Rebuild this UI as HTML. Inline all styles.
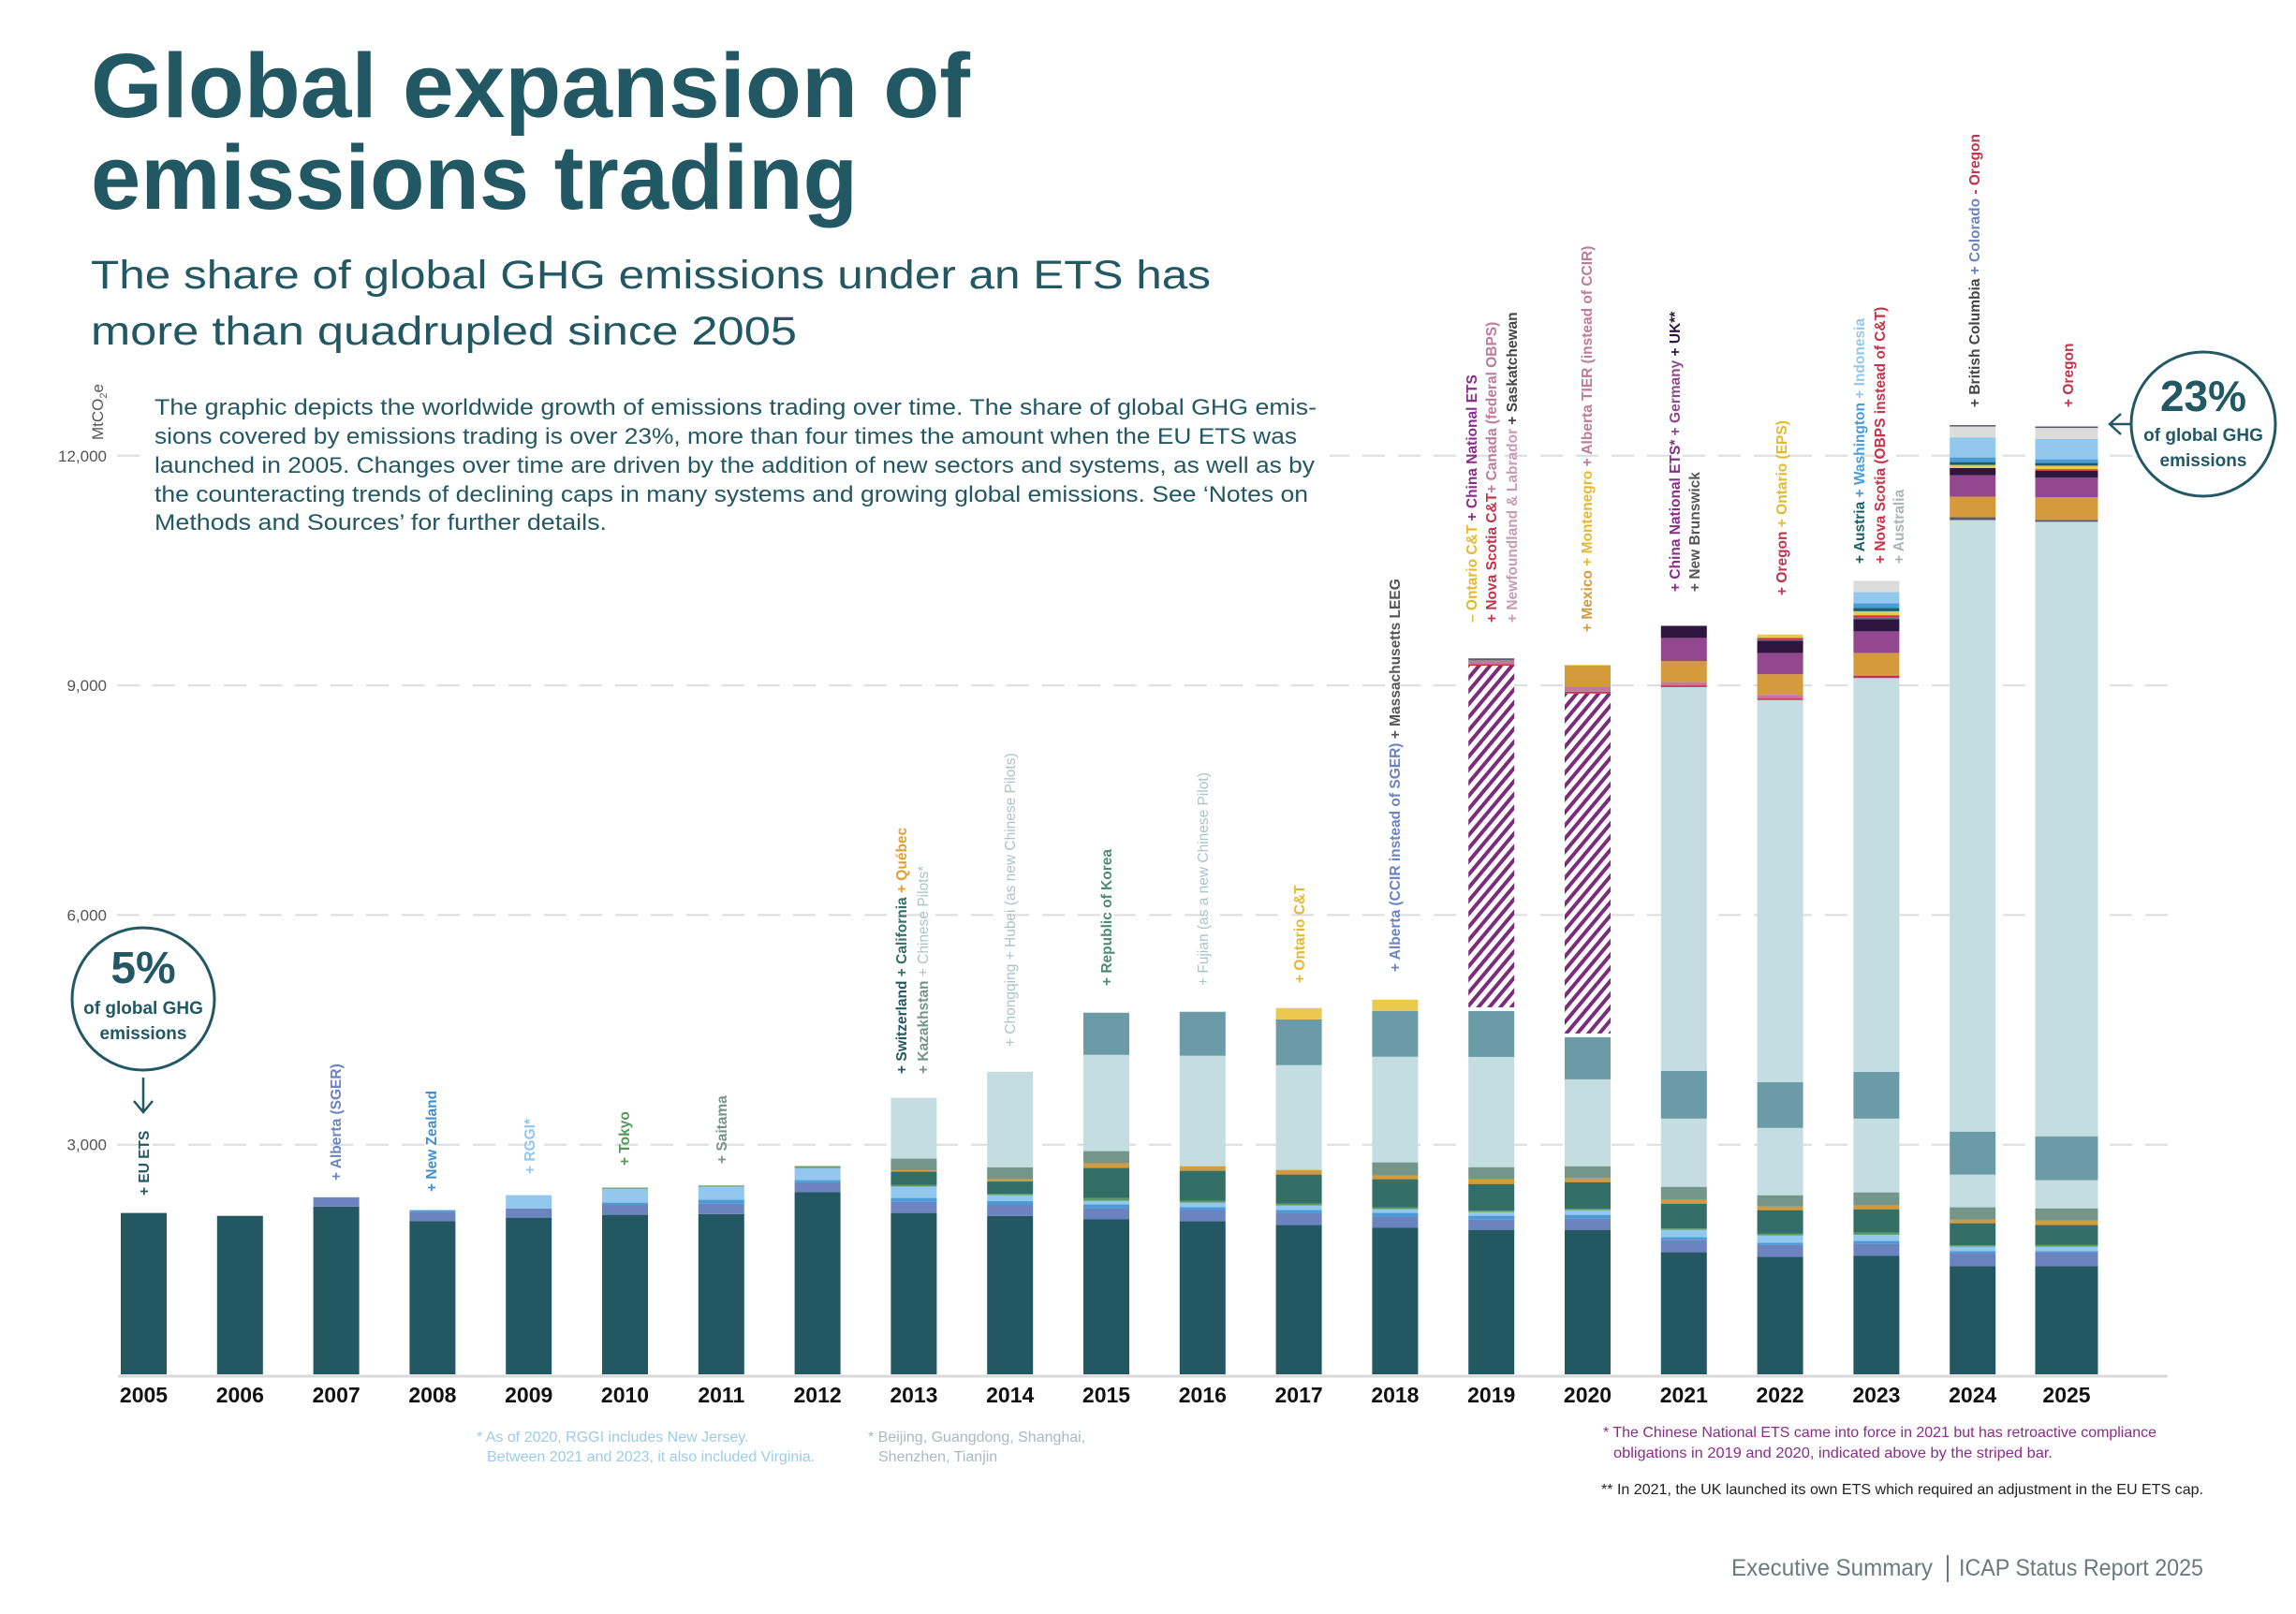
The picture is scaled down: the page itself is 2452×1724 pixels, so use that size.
<!DOCTYPE html>
<html><head><meta charset="utf-8"><title>Global expansion of emissions trading</title>
<style>
html,body{margin:0;padding:0;background:#fff;}
svg{display:block;font-family:"Liberation Sans",sans-serif;}
</style></head>
<body>
<svg id="chart" width="2452" height="1724" viewBox="0 0 2452 1724" xmlns="http://www.w3.org/2000/svg">
<defs>
<pattern id="hatch" patternUnits="userSpaceOnUse" width="9" height="9" patternTransform="rotate(40)">
<rect x="0" y="0" width="9" height="9" fill="#fff"/>
<rect x="0" y="0" width="4" height="9" fill="#7b2d7b"/>
</pattern>
</defs>
<g fill="#225863" font-weight="bold" font-size="97">
<text x="97" y="125" textLength="939" lengthAdjust="spacingAndGlyphs">Global expansion of</text>
<text x="97" y="223" textLength="819" lengthAdjust="spacingAndGlyphs">emissions trading</text>
</g>
<g fill="#225863" font-size="43">
<text x="97" y="308" textLength="1196" lengthAdjust="spacingAndGlyphs">The share of global GHG emissions under an ETS has</text>
<text x="97" y="368" textLength="754" lengthAdjust="spacingAndGlyphs">more than quadrupled since 2005</text>
</g>
<g id="grid"></g>
<g id="bars"></g>
<g fill="#225863" font-size="24">
<rect x="160" y="410" width="1260" height="170" fill="#fff"/>
<text x="165" y="443" textLength="1241" lengthAdjust="spacingAndGlyphs">The graphic depicts the worldwide growth of emissions trading over time. The share of global GHG emis-</text>
<text x="165" y="474" textLength="1220" lengthAdjust="spacingAndGlyphs">sions covered by emissions trading is over 23%, more than four times the amount when the EU ETS was</text>
<text x="165" y="505" textLength="1239" lengthAdjust="spacingAndGlyphs">launched in 2005. Changes over time are driven by the addition of new sectors and systems, as well as by</text>
<text x="165" y="536" textLength="1232" lengthAdjust="spacingAndGlyphs">the counteracting trends of declining caps in many systems and growing global emissions. See ‘Notes on</text>
<text x="165" y="566" textLength="483" lengthAdjust="spacingAndGlyphs">Methods and Sources’ for further details.</text>
</g>
<text transform="translate(110,470) rotate(-90)" font-size="17" fill="#555">MtCO<tspan font-size="11" dy="4">2</tspan><tspan dy="-4">e</tspan></text>
<g id="annots"></g>
<g>
<circle cx="153" cy="1067" r="76" fill="#fff" stroke="#225863" stroke-width="3"/>
<text x="153" y="1050" text-anchor="middle" font-size="48" font-weight="bold" fill="#225863">5%</text>
<text x="153" y="1083" text-anchor="middle" font-size="19" font-weight="bold" fill="#225863">of global GHG</text>
<text x="153" y="1110" text-anchor="middle" font-size="19" font-weight="bold" fill="#225863">emissions</text>
<path d="M153 1151 V1188 M143 1176 L153 1188 L163 1176" fill="none" stroke="#225863" stroke-width="2.5"/>
</g>
<g>
<circle cx="2353" cy="453" r="77" fill="#fff" stroke="#225863" stroke-width="3"/>
<text x="2353" y="439" text-anchor="middle" font-size="46" font-weight="bold" fill="#225863">23%</text>
<text x="2353" y="471" text-anchor="middle" font-size="19" font-weight="bold" fill="#225863">of global GHG</text>
<text x="2353" y="498" text-anchor="middle" font-size="19" font-weight="bold" fill="#225863">emissions</text>
<path d="M2276 453 H2253 M2265 442 L2253 453 L2265 464" fill="none" stroke="#225863" stroke-width="2.5"/>
</g>
<g font-size="16" fill="#9ccbe8">
<text x="509" y="1540">* As of 2020, RGGI includes New Jersey.</text>
<text x="520" y="1561">Between 2021 and 2023, it also included Virginia.</text>
</g>
<g font-size="16" fill="#a9b9bd">
<text x="927" y="1540">* Beijing, Guangdong, Shanghai,</text>
<text x="938" y="1561">Shenzhen, Tianjin</text>
</g>
<g font-size="16" fill="#8a2c8a">
<text x="1712" y="1535" textLength="591" lengthAdjust="spacingAndGlyphs">* The Chinese National ETS came into force in 2021 but has retroactive compliance</text>
<text x="1723" y="1557" textLength="469" lengthAdjust="spacingAndGlyphs">obligations in 2019 and 2020, indicated above by the striped bar.</text>
</g>
<text x="1710" y="1596" font-size="16" fill="#222" textLength="643" lengthAdjust="spacingAndGlyphs">** In 2021, the UK launched its own ETS which required an adjustment in the EU ETS cap.</text>
<g font-size="25" fill="#6b7b7b">
<text x="1849" y="1683" textLength="215" lengthAdjust="spacingAndGlyphs">Executive Summary</text>
<line x1="2080" y1="1661" x2="2080" y2="1690" stroke="#6b7b7b" stroke-width="2"/>
<text x="2092" y="1683" textLength="261" lengthAdjust="spacingAndGlyphs">ICAP Status Report 2025</text>
</g>
</svg>
<script>
const years = [2005,2006,2007,2008,2009,2010,2011,2012,2013,2014,2015,2016,2017,2018,2019,2020,2021,2022,2023,2024,2025];
const yTicks = [3000,6000,9000,12000];
const yTickLabels = ["3,000","6,000","9,000","12,000"];
const euEts      = [2108,2070,2192,2000,2047,2084,2094,2379,2108,2070,2024,1999,1950,1914,1888,1888,1595,1534,1547,1412,1412];
const alberta    = [0,0,121,126,121,136,135,130,144,150,146,147,159,146,139,147,163,159,158,171,183];
const newZealand = [0,0,0,19,0,23,51,28,52,46,49,37,37,49,45,49,33,25,37,25,13];
const rggi       = [0,0,0,0,173,182,173,159,149,75,49,61,61,49,48,61,97,97,81,61,61];
const tokyo      = [0,0,0,0,0,14,14,24,19,19,37,24,24,25,17,20,17,21,29,16,20];
const california = [0,0,0,0,0,0,0,0,178,159,391,391,379,366,350,346,325,309,305,289,261];
const quebec     = [0,0,0,0,0,0,0,0,14,28,61,61,61,49,61,49,49,49,49,49,61];
const kazakhstan = [0,0,0,0,0,0,0,0,154,159,159,0,0,171,159,159,171,146,171,159,158];
const cnPilots   = [0,0,0,0,0,0,0,0,794,1247,1258,1442,1368,1380,1440,1135,891,879,964,427,367];
const korea      = [0,0,0,0,0,0,0,0,0,0,550,574,599,599,599,550,623,599,611,562,574];
const ontarioCT  = [0,0,0,0,0,0,0,0,0,0,0,0,147,147,0,0,0,0,0,0,0];
const chinaNat   = [0,0,0,0,0,0,0,0,0,0,0,0,0,0,4512,4490,5014,4991,5144,7989,8027];
const novaScotia = [0,0,0,0,0,0,0,0,0,0,0,0,0,0,20,23,22,20,31,0,0];
const canadaObps = [0,0,0,0,0,0,0,0,0,0,0,0,0,0,50,70,47,48,10,0,0];
const saskatch   = [0,0,0,0,0,0,0,0,0,0,0,0,0,0,25,0,0,0,0,36,23];
const mexico     = [0,0,0,0,0,0,0,0,0,0,0,0,0,0,0,271,269,269,287,269,297];
const germany    = [0,0,0,0,0,0,0,0,0,0,0,0,0,0,0,0,304,278,282,281,256];
const ukEts      = [0,0,0,0,0,0,0,0,0,0,0,0,0,0,0,0,158,159,160,93,92];
const newBruns   = [0,0,0,0,0,0,0,0,0,0,0,0,0,0,0,0,0,17,25,0,0];
const oregon     = [0,0,0,0,0,0,0,0,0,0,0,0,0,0,0,0,0,20,25,0,20];
const ontarioEps = [0,0,0,0,0,0,0,0,0,0,0,0,0,0,0,10,0,45,53,41,45];
const austria    = [0,0,0,0,0,0,0,0,0,0,0,0,0,0,0,0,0,0,43,37,35];
const washington = [0,0,0,0,0,0,0,0,0,0,0,0,0,0,0,0,0,0,61,61,49];
const indonesia  = [0,0,0,0,0,0,0,0,0,0,0,0,0,0,0,0,0,0,147,262,264];
const australia  = [0,0,0,0,0,0,0,0,0,0,0,0,0,0,0,0,0,0,146,142,145];
const bcColorado = [0,0,0,0,0,0,0,0,0,0,0,0,0,0,0,0,0,0,0,18,19];

const series = [
 ['eu-ets',euEts,'#235863'],['alberta',alberta,'#6b84bf'],['new-zealand',newZealand,'#4b9bd8'],
 ['rggi',rggi,'#93c8ee'],['tokyo-saitama',tokyo,'#5e9b63'],['california',california,'#336f66'],
 ['quebec',quebec,'#d49a3c'],['kazakhstan',kazakhstan,'#74958a'],['chinese-pilots',cnPilots,'#c4dde1'],
 ['korea',korea,'#6a9ba6'],['ontario-ct',ontarioCT,'#ebc84e'],['china-national',chinaNat,'#c4dde1'],
 ['nova-scotia',novaScotia,'#c4334a'],['canada-obps',canadaObps,'#c07a9a'],['saskatchewan',saskatch,'#5a5a6e'],
 ['mexico',mexico,'#d49a3c'],['germany',germany,'#93478f'],['uk-ets',ukEts,'#2f1640'],
 ['new-brunswick',newBruns,'#6b6b7a'],['oregon',oregon,'#c4334a'],['ontario-eps',ontarioEps,'#ebc84e'],
 ['austria',austria,'#1d5c6a'],['washington',washington,'#4b9bd8'],['indonesia',indonesia,'#93c8ee'],
 ['australia',australia,'#dcdcdc'],['bc-colorado',bcColorado,'#555566']
];
const NS='http://www.w3.org/2000/svg';
const y0=1468, unit=245.3/3000;
function yScale(v){return y0 - v*unit;}
function xCenter(i){return i===years.length-1 ? 2207 : 153.5 + 102.8*i;}
function barW(i){return i===years.length-1 ? 67 : 49;}
const grid=document.getElementById('grid');
yTicks.forEach((t,k)=>{
  const l=document.createElementNS(NS,'line');
  l.setAttribute('x1',125);l.setAttribute('x2',2315);
  l.setAttribute('y1',yScale(t));l.setAttribute('y2',yScale(t));
  l.setAttribute('stroke','#dcdcdc');l.setAttribute('stroke-width',2);l.setAttribute('stroke-dasharray','24 14');
  
  
  grid.appendChild(l);
  const tx=document.createElementNS(NS,'text');
  tx.setAttribute('x',114);tx.setAttribute('y',yScale(t)+6);tx.setAttribute('text-anchor','end');
  tx.setAttribute('font-size','17');tx.setAttribute('fill','#555');
  tx.textContent=yTickLabels[k];
  
  
  grid.appendChild(tx);
});
const bars=document.getElementById('bars');
years.forEach((yr,i)=>{
  let cum=0;
  const w=barW(i), x=xCenter(i)-w/2;
  series.forEach(s=>{
    const v=s[1][i];
    if(v>0){
      const r=document.createElementNS(NS,'rect');
      const hatched = s[0]==='china-national' && yr<2021;
      let top=yScale(cum+v), bot=yScale(cum);
      if(hatched) bot-=4;
      r.setAttribute('x',x);r.setAttribute('width',w);
      r.setAttribute('y',top);r.setAttribute('height',Math.max(0,bot-top));
      r.setAttribute('fill',hatched?'url(#hatch)':s[2]);
      
      
      bars.appendChild(r);
    }
    cum+=v;
  });
  const t=document.createElementNS(NS,'text');
  t.setAttribute('x',xCenter(i));t.setAttribute('y',1498);t.setAttribute('text-anchor','middle');
  t.setAttribute('font-size','23');t.setAttribute('font-weight','bold');t.setAttribute('fill','#111');
  t.textContent=yr;
  
  
  bars.appendChild(t);
});
const ax=document.createElementNS(NS,'line');
ax.setAttribute('x1',126);ax.setAttribute('x2',2315);ax.setAttribute('y1',1470);ax.setAttribute('y2',1470);
ax.setAttribute('stroke','#d9d9d9');ax.setAttribute('stroke-width',3);


bars.appendChild(ax);

const annotations=[
 [153,1277,[['+ EU ETS','#225863','bold']]],
 [358,1261,[['+ Alberta (SGER)','#6b84bf','bold']]],
 [460,1273,[['+ New Zealand','#3e8fd6','bold']]],
 [565,1254,[['+ RGGI*','#93c8ee','bold']]],
 [666,1245,[['+ Tokyo','#4f9a55','bold']]],
 [770,1243,[['+ Saitama','#74958a','bold']]],
 [962,1147,[['+ Switzerland ','#225863','bold'],['+ California ','#336f66','bold'],['+ Québec','#e0a030','bold']]],
 [985,1147,[['+ Kazakhstan ','#74958a','bold'],['+ Chinese Pilots*','#a9c4c9','normal']]],
 [1078,1118,[['+ Chongqing + Hubei (as new Chinese Pilots)','#a9c4c9','normal']]],
 [1181,1053,[['+ Republic of Korea','#4f8a78','bold']]],
 [1284,1053,[['+ Fujian (as a new Chinese Pilot)','#a9c4c9','normal']]],
 [1387,1050,[['+ Ontario C&T','#e6b830','bold']]],
 [1489,1038,[['+ Alberta (CCIR instead of SGER) ','#6b84bf','bold'],['+ Massachusetts LEEG','#555','bold']]],
 [1571,665,[['– Ontario C&T ','#e6b830','bold'],['+ China National ETS','#8a2c8a','bold']]],
 [1592,665,[['+ Nova Scotia  C&T','#c4334a','bold'],['+ Canada (federal OBPS)','#c07a9a','bold']]],
 [1614,665,[['+ Newfoundland & Labrador ','#c89ab4','bold'],['+ Saskatchewan','#444','bold']]],
 [1694,675,[['+ Mexico ','#d49a3c','bold'],['+ Montenegro ','#e6b830','bold'],['+ Alberta TIER (instead of CCIR)','#c07a9a','bold']]],
 [1788,632,[['+ China National ETS* ','#8a2c8a','bold'],['+ Germany ','#93478f','bold'],['+ UK**','#2f1640','bold']]],
 [1809,632,[['+ New Brunswick','#555','bold']]],
 [1902,636,[['+ Oregon ','#c4334a','bold'],['+ Ontario (EPS)','#e6b830','bold']]],
 [1985,602,[['+ Austria ','#1d5c6a','bold'],['+ Washington ','#4b9bd8','bold'],['+ Indonesia','#93c8ee','bold']]],
 [2007,602,[['+ Nova Scotia (OBPS instead of C&T)','#c4334a','bold']]],
 [2027,602,[['+ Australia','#a9b4b9','bold']]],
 [2108,435,[['+ British Columbia ','#444','bold'],['+ Colorado ','#6b84bf','bold'],['- Oregon','#c4334a','bold']]],
 [2208,435,[['+ Oregon','#c4334a','bold']]]
];
const ag=document.getElementById('annots');
annotations.forEach(a=>{
  const t=document.createElementNS(NS,'text');
  t.setAttribute('transform','translate('+(a[0]+6)+','+a[1]+') rotate(-90)');
  t.setAttribute('font-size','15.5');
  a[2].forEach(p=>{
    const s=document.createElementNS(NS,'tspan');
    s.setAttribute('fill',p[1]);s.setAttribute('font-weight',p[2]);
    s.textContent=p[0];
    t.appendChild(s);
  });
  
  
  ag.appendChild(t);
});
</script>
</body></html>
